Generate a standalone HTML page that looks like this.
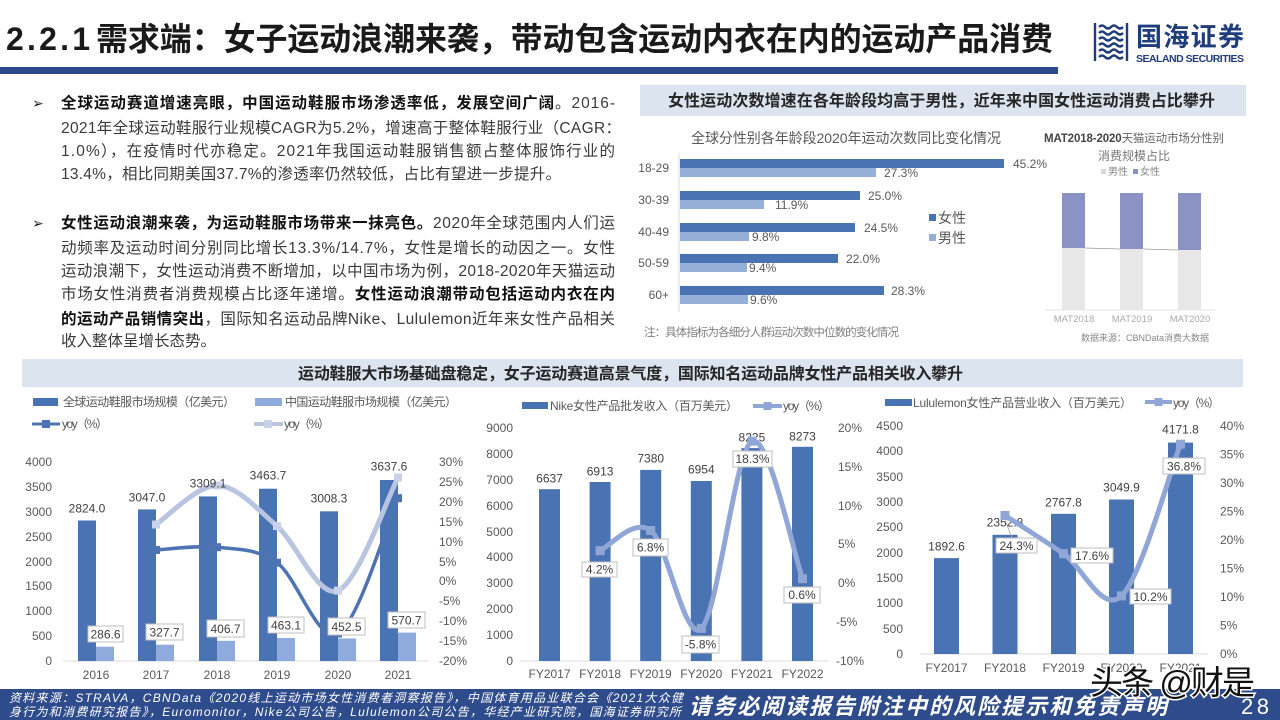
<!DOCTYPE html>
<html><head><meta charset="utf-8">
<style>
html,body{margin:0;padding:0;background:#fff;width:1280px;height:720px;overflow:hidden}
svg{display:block}
text{font-family:"Liberation Sans","Noto Sans CJK SC",sans-serif}
</style></head>
<body>
<svg width="1280" height="720" viewBox="0 0 1280 720" xmlns="http://www.w3.org/2000/svg">
<rect x="0" y="0" width="1280" height="720" fill="#fff"/>

<!-- Header -->
<text x="6" y="50" font-size="32" font-weight="bold" fill="#1a1a1a" textLength="84">2.2.1</text>
<text x="96" y="50" font-size="32" font-weight="bold" fill="#1a1a1a" textLength="957">需求端：女子运动浪潮来袭，带动包含运动内衣在内的运动产品消费</text>
<rect x="0" y="67" width="1058" height="7" fill="#2c4a8a"/>

<!-- Logo -->
<g fill="none" stroke="#1f3d7a" stroke-width="2.4">
<path d="M1095 23 v38"/>
<path d="M1127 23 v38"/>
<path d="M1099 27 q3 -3 6 0 t6 0 t6 0 t6 0"/>
<path d="M1099 33 q3 -3 6 0 t6 0 t6 0 t6 0"/>
<path d="M1099 39 q3 -3 6 0 t6 0 t6 0 t6 0"/>
<path d="M1099 45 q3 -3 6 0 t6 0 t6 0 t6 0"/>
<path d="M1099 51 q3 -3 6 0 t6 0 t6 0 t6 0"/>
<path d="M1099 57 q3 -3 6 0 t6 0 t6 0 t6 0"/>
</g>
<text x="1136" y="46" font-size="26" font-weight="bold" fill="#1f3d7a" textLength="108">国海证券</text>
<text x="1136" y="62" font-size="10.5" font-weight="bold" fill="#1f3d7a" textLength="108">SEALAND SECURITIES</text>

<!-- Left text -->
<g font-size="15.5" fill="#3a3a3a">
<text x="32" y="108" font-family="DejaVu Sans, sans-serif" font-size="14" fill="#222">➢</text>
<text x="61" y="108" textLength="554"><tspan font-weight="bold" fill="#111">全球运动赛道增速亮眼，中国运动鞋服市场渗透率低，发展空间广阔</tspan>。2016-</text>
<text x="61" y="133" textLength="560">2021年全球运动鞋服行业规模CAGR为5.2%，增速高于整体鞋服行业（CAGR：</text>
<text x="61" y="156" textLength="554">1.0%），在疫情时代亦稳定。2021年我国运动鞋服销售额占整体服饰行业的</text>
<text x="61" y="179" textLength="500">13.4%，相比同期美国37.7%的渗透率仍然较低，占比有望进一步提升。</text>

<text x="32" y="228" font-family="DejaVu Sans, sans-serif" font-size="14" fill="#222">➢</text>
<text x="61" y="228" textLength="554"><tspan font-weight="bold" fill="#111">女性运动浪潮来袭，为运动鞋服市场带来一抹亮色。</tspan>2020年全球范围内人们运</text>
<text x="61" y="253" textLength="554">动频率及运动时间分别同比增长13.3%/14.7%，女性是增长的动因之一。女性</text>
<text x="61" y="276" textLength="554">运动浪潮下，女性运动消费不断增加，以中国市场为例，2018-2020年天猫运动</text>
<text x="61" y="299" textLength="554">市场女性消费者消费规模占比逐年递增。<tspan font-weight="bold" fill="#111">女性运动浪潮带动包括运动内衣在内</tspan></text>
<text x="61" y="324" textLength="554"><tspan font-weight="bold" fill="#111">的运动产品销情突出</tspan>，国际知名运动品牌Nike、Lululemon近年来女性产品相关</text>
<text x="61" y="346">收入整体呈增长态势。</text>
</g>

<!-- Top-right panel -->
<rect x="640" y="85" width="606" height="31" fill="#dce4f0"/>
<text x="668" y="106" font-size="16" font-weight="bold" fill="#262626" textLength="547">女性运动次数增速在各年龄段均高于男性，近年来中国女性运动消费占比攀升</text>

<text x="691" y="143" font-size="14" fill="#595959" textLength="310">全球分性别各年龄段2020年运动次数同比变化情况</text>
<line x1="679" y1="153" x2="679" y2="312" stroke="#d9d9d9" stroke-width="1"/>
<g font-size="12" fill="#595959" text-anchor="end">
<text x="669" y="172">18-29</text>
<text x="669" y="204">30-39</text>
<text x="669" y="236">40-49</text>
<text x="669" y="267">50-59</text>
<text x="669" y="299">60+</text>
</g>
<g fill="#4a73b4">
<rect x="680" y="159" width="324" height="9"/>
<rect x="680" y="191" width="180" height="9"/>
<rect x="680" y="223" width="175" height="9"/>
<rect x="680" y="254" width="158" height="9"/>
<rect x="680" y="286" width="204" height="9"/>
</g>
<g fill="#95afd9">
<rect x="680" y="168" width="196" height="9"/>
<rect x="680" y="200" width="84" height="9"/>
<rect x="680" y="232" width="69" height="9"/>
<rect x="680" y="263" width="67" height="9"/>
<rect x="680" y="295" width="68" height="9"/>
</g>
<g font-size="12" fill="#595959">
<text x="1013" y="168">45.2%</text>
<text x="884" y="177">27.3%</text>
<text x="868" y="200">25.0%</text>
<text x="775" y="209">11.9%</text>
<text x="864" y="232">24.5%</text>
<text x="752" y="241">9.8%</text>
<text x="846" y="263">22.0%</text>
<text x="749" y="272">9.4%</text>
<text x="891" y="295">28.3%</text>
<text x="750" y="304">9.6%</text>
</g>
<rect x="929" y="214" width="7" height="7" fill="#4a73b4"/>
<text x="938" y="223" font-size="14" fill="#595959">女性</text>
<rect x="929" y="234" width="7" height="7" fill="#95afd9"/>
<text x="938" y="243" font-size="14" fill="#595959">男性</text>
<text x="644" y="336" font-size="11.5" fill="#7f7f7f" textLength="255">注：具体指标为各细分人群运动次数中位数的变化情况</text>

<!-- MAT mini chart -->
<text x="1044" y="142" font-size="11.5" fill="#666" textLength="180"><tspan font-weight="bold" fill="#444">MAT2018-2020</tspan>天猫运动市场分性别</text>
<text x="1134" y="160" font-size="12" fill="#777" text-anchor="middle">消费规模占比</text>
<rect x="1101" y="169" width="5" height="5" fill="#d9d9d9"/>
<text x="1108" y="175" font-size="10" fill="#888">男性</text>
<rect x="1133" y="169" width="5" height="5" fill="#8b93c4"/>
<text x="1140" y="175" font-size="10" fill="#888">女性</text>
<g fill="#8b93c4">
<rect x="1062" y="193" width="23" height="55"/>
<rect x="1120" y="193" width="23" height="56"/>
<rect x="1178" y="193" width="23" height="57"/>
</g>
<g fill="#e7e7e7">
<rect x="1062" y="248" width="23" height="62"/>
<rect x="1120" y="249" width="23" height="61"/>
<rect x="1178" y="250" width="23" height="60"/>
</g>
<line x1="1085" y1="248" x2="1120" y2="249" stroke="#999" stroke-width="0.8"/>
<line x1="1143" y1="249" x2="1178" y2="250" stroke="#999" stroke-width="0.8"/>
<line x1="1045" y1="310" x2="1215" y2="310" stroke="#e6e6e6" stroke-width="1"/>
<g font-size="9.5" fill="#aaa" text-anchor="middle">
<text x="1074" y="322">MAT2018</text>
<text x="1132" y="322">MAT2019</text>
<text x="1190" y="322">MAT2020</text>
</g>
<text x="1145" y="341" font-size="9" fill="#888" text-anchor="middle">数据来源：CBNData消费大数据</text>

<!-- Banner -->
<rect x="22" y="359" width="1221" height="28" fill="#dce4f0"/>
<text x="298" y="379" font-size="16" font-weight="bold" fill="#262626" textLength="665">运动鞋服大市场基础盘稳定，女子运动赛道高景气度，国际知名运动品牌女性产品相关收入攀升</text>

<!-- ============ Bottom-left chart ============ -->
<rect x="33" y="398" width="25" height="8" fill="#4a73b4"/>
<text x="63" y="406" font-size="12" fill="#595959" textLength="172">全球运动鞋服市场规模（亿美元）</text>
<rect x="255" y="398" width="27" height="8" fill="#8faadc"/>
<text x="285" y="406" font-size="12" fill="#595959" textLength="172">中国运动鞋服市场规模（亿美元）</text>
<line x1="32" y1="424" x2="60" y2="424" stroke="#4d73b2" stroke-width="3"/>
<rect x="42" y="420" width="8" height="8" fill="#4d73b2"/>
<text x="62" y="428" font-size="12" fill="#595959" textLength="46">yoy（%）</text>
<line x1="254" y1="424" x2="283" y2="424" stroke="#b8c4e0" stroke-width="4"/>
<rect x="264" y="420" width="8" height="8" fill="#c9d2ea"/>
<text x="284" y="428" font-size="12" fill="#595959" textLength="46">yoy（%）</text>

<g font-size="12" fill="#595959" text-anchor="end">
<text x="52" y="466">4000</text>
<text x="52" y="491">3500</text>
<text x="52" y="516">3000</text>
<text x="52" y="541">2500</text>
<text x="52" y="566">2000</text>
<text x="52" y="590">1500</text>
<text x="52" y="615">1000</text>
<text x="52" y="640">500</text>
<text x="52" y="665">0</text>
</g>
<g font-size="12" fill="#595959">
<text x="439" y="466">30%</text>
<text x="439" y="486">25%</text>
<text x="439" y="506">20%</text>
<text x="439" y="526">15%</text>
<text x="439" y="546">10%</text>
<text x="439" y="566">5%</text>
<text x="439" y="585">0%</text>
<text x="439" y="605">-5%</text>
<text x="439" y="625">-10%</text>
<text x="439" y="645">-15%</text>
<text x="439" y="665">-20%</text>
</g>
<line x1="63" y1="661" x2="428" y2="661" stroke="#d9d9d9" stroke-width="1"/>
<g fill="#4a73b4">
<rect x="78" y="520.5" width="18" height="140.5"/>
<rect x="138" y="509.4" width="18" height="151.6"/>
<rect x="199" y="496.4" width="18" height="164.6"/>
<rect x="259" y="488.7" width="18" height="172.3"/>
<rect x="320" y="511.3" width="18" height="149.7"/>
<rect x="380" y="480" width="18" height="181"/>
</g>
<g fill="#8faadc">
<rect x="96" y="646.7" width="18" height="14.3"/>
<rect x="156" y="644.7" width="18" height="16.3"/>
<rect x="217" y="640.8" width="18" height="20.2"/>
<rect x="277" y="638" width="18" height="23"/>
<rect x="338" y="638.5" width="18" height="22.5"/>
<rect x="398" y="632.6" width="18" height="28.4"/>
</g>
<g font-size="12" fill="#595959" text-anchor="middle">
<text x="96" y="679">2016</text>
<text x="156" y="679">2017</text>
<text x="217" y="679">2018</text>
<text x="277" y="679">2019</text>
<text x="338" y="679">2020</text>
<text x="398" y="679">2021</text>
</g>
<!-- China yoy line -->
<path d="M156 524.5 C166.2 518 196.8 485.2 217 485.5 C237.2 485.8 256.8 508.6 277 526.1 C297.2 543.6 317.8 598.7 338 590.6 C358.2 582.5 388 496.4 398 477.5" fill="none" stroke="#b8c4e0" stroke-width="5"/>
<!-- Global yoy line -->
<path d="M156 550 C166.2 549.5 196.8 545.1 217 547.2 C237.2 549.3 256.8 548.3 277 562.7 C297.2 577.1 317.8 644.3 338 633.5 C358.2 622.75 388 520.8 398 498.2" fill="none" stroke="#4d73b2" stroke-width="3.5"/>
<g fill="#c9d2ea">
<rect x="152" y="520.5" width="8" height="8"/>
<rect x="213" y="481.5" width="8" height="8"/>
<rect x="273" y="522.1" width="8" height="8"/>
<rect x="334" y="586.6" width="8" height="8"/>
<rect x="394" y="473.5" width="8" height="8"/>
</g>
<g fill="#4d73b2">
<rect x="152" y="546" width="8" height="8"/>
<rect x="213" y="543.2" width="8" height="8"/>
<rect x="273" y="558.7" width="8" height="8"/>
<rect x="334" y="629.5" width="8" height="8"/>
<rect x="394" y="494.2" width="8" height="8"/>
</g>
<g font-size="12" fill="#404040" text-anchor="middle">
<text x="87" y="512.5">2824.0</text>
<text x="147" y="501.5">3047.0</text>
<text x="208" y="487.5">3309.1</text>
<text x="268" y="479.5">3463.7</text>
<text x="329" y="502.5">3008.3</text>
<text x="389" y="470.5">3637.6</text>
</g>
<g fill="#fff" stroke="#bfbfbf" stroke-width="1">
<rect x="88" y="626" width="35" height="16"/>
<rect x="146" y="624" width="37" height="16"/>
<rect x="207" y="620" width="37" height="17"/>
<rect x="268" y="617" width="36" height="16"/>
<rect x="328" y="618" width="37" height="17"/>
<rect x="388" y="612" width="37" height="16"/>
</g>
<g font-size="12" fill="#404040" text-anchor="middle">
<text x="105.5" y="638.5">286.6</text>
<text x="164.5" y="636.5">327.7</text>
<text x="225.5" y="633">406.7</text>
<text x="286" y="629.5">463.1</text>
<text x="346.5" y="631">452.5</text>
<text x="406.5" y="624.5">570.7</text>
</g>

<!-- ============ Middle chart (Nike) ============ -->
<rect x="522" y="402" width="26" height="7" fill="#4a73b4"/>
<text x="550" y="410" font-size="12" fill="#595959" textLength="188">Nike女性产品批发收入（百万美元）</text>
<line x1="753" y1="406" x2="782" y2="406" stroke="#8fa6d6" stroke-width="4"/>
<rect x="763.5" y="402" width="8" height="8" fill="#8fa6d6"/>
<text x="783" y="410" font-size="12" fill="#595959" textLength="47">yoy（%）</text>

<g font-size="12" fill="#595959" text-anchor="end">
<text x="513" y="432">9000</text>
<text x="513" y="458">8000</text>
<text x="513" y="484">7000</text>
<text x="513" y="510">6000</text>
<text x="513" y="536">5000</text>
<text x="513" y="561">4000</text>
<text x="513" y="587">3000</text>
<text x="513" y="613">2000</text>
<text x="513" y="639">1000</text>
<text x="513" y="665">0</text>
</g>
<g font-size="12" fill="#595959">
<text x="838" y="432">20%</text>
<text x="838" y="471">15%</text>
<text x="838" y="510">10%</text>
<text x="838" y="548">5%</text>
<text x="838" y="587">0%</text>
<text x="836" y="626">-5%</text>
<text x="836" y="665">-10%</text>
</g>
<line x1="520" y1="661" x2="828" y2="661" stroke="#d9d9d9" stroke-width="1"/>
<g fill="#4a73b4">
<rect x="539" y="489.2" width="21" height="171.8"/>
<rect x="589.6" y="482" width="21" height="179"/>
<rect x="640.2" y="469.9" width="21" height="191.1"/>
<rect x="690.8" y="481" width="21" height="180"/>
<rect x="741.4" y="448.1" width="21" height="212.9"/>
<rect x="792" y="446.8" width="21" height="214.2"/>
</g>
<g font-size="12" fill="#595959" text-anchor="middle">
<text x="549.5" y="678">FY2017</text>
<text x="600.1" y="678">FY2018</text>
<text x="650.7" y="678">FY2019</text>
<text x="701.3" y="678">FY2020</text>
<text x="751.9" y="678">FY2021</text>
<text x="802.5" y="678">FY2022</text>
</g>
<g font-size="12" fill="#404040" text-anchor="middle">
<text x="549.5" y="482.5">6637</text>
<text x="600.1" y="475.5">6913</text>
<text x="650.7" y="462.5">7380</text>
<text x="701.3" y="473.5">6954</text>
<text x="751.9" y="441.5">8225</text>
<text x="802.5" y="440.5">8273</text>
</g>
<path d="M600.1 550.7 C608.5 547.3 633.8 517.55 650.7 530.5 C667.6 543.45 684.4 643.3 701.3 628.4 C718.2 613.5 735 449.5 751.9 441.2 C768.8 432.9 794.1 555.8 802.5 578.7" fill="none" stroke="#8fa6d6" stroke-width="5"/>
<g fill="#8fa6d6">
<rect x="595.6" y="546.2" width="9" height="9"/>
<rect x="646.2" y="526" width="9" height="9"/>
<rect x="696.8" y="623.9" width="9" height="9"/>
<rect x="747.4" y="436.7" width="9" height="9"/>
<rect x="798" y="574.2" width="9" height="9"/>
</g>
<g fill="#fff" stroke="#bfbfbf" stroke-width="1">
<rect x="582" y="562" width="35" height="15"/>
<rect x="633" y="539" width="35" height="17"/>
<rect x="682" y="636" width="37" height="17"/>
<rect x="733" y="451" width="39" height="16"/>
<rect x="784" y="587" width="36" height="16"/>
</g>
<g font-size="12" fill="#404040" text-anchor="middle">
<text x="599.5" y="573.5">4.2%</text>
<text x="650.5" y="551.5">6.8%</text>
<text x="700.5" y="648.5">-5.8%</text>
<text x="752.5" y="463">18.3%</text>
<text x="802" y="599">0.6%</text>
</g>

<!-- ============ Right chart (Lululemon) ============ -->
<rect x="885" y="399" width="27" height="7" fill="#4a73b4"/>
<text x="913" y="407" font-size="12" fill="#595959" textLength="219">Lululemon女性产品营业收入（百万美元）</text>
<line x1="1145" y1="402" x2="1172" y2="402" stroke="#8fa6d6" stroke-width="4"/>
<rect x="1154.5" y="398" width="8" height="8" fill="#8fa6d6"/>
<text x="1173" y="407" font-size="12" fill="#595959" textLength="47">yoy（%）</text>

<g font-size="12" fill="#595959" text-anchor="end">
<text x="903" y="430">4500</text>
<text x="903" y="455">4000</text>
<text x="903" y="481">3500</text>
<text x="903" y="506">3000</text>
<text x="903" y="531">2500</text>
<text x="903" y="557">2000</text>
<text x="903" y="582">1500</text>
<text x="903" y="607">1000</text>
<text x="903" y="633">500</text>
<text x="903" y="658">0</text>
</g>
<g font-size="12" fill="#595959">
<text x="1220" y="430">40%</text>
<text x="1220" y="458.5">35%</text>
<text x="1220" y="487">30%</text>
<text x="1220" y="515.5">25%</text>
<text x="1220" y="544">20%</text>
<text x="1220" y="572.5">15%</text>
<text x="1220" y="601">10%</text>
<text x="1220" y="629.5">5%</text>
<text x="1220" y="658">0%</text>
</g>
<line x1="920" y1="654" x2="1208" y2="654" stroke="#d9d9d9" stroke-width="1"/>
<g fill="#4a73b4">
<rect x="934" y="558.1" width="25" height="95.9"/>
<rect x="992.5" y="534.8" width="25" height="119.2"/>
<rect x="1051" y="513.8" width="25" height="140.2"/>
<rect x="1109" y="499.5" width="25" height="154.5"/>
<rect x="1168" y="442.6" width="25" height="211.4"/>
</g>
<g font-size="12" fill="#595959" text-anchor="middle">
<text x="946.5" y="672">FY2017</text>
<text x="1005" y="672">FY2018</text>
<text x="1063.5" y="672">FY2019</text>
<text x="1121.5" y="672">FY2020</text>
<text x="1180.5" y="672">FY2021</text>
</g>
<g font-size="12" fill="#404040" text-anchor="middle">
<text x="946.5" y="550.5">1892.6</text>
<text x="1005" y="526.5">2352.8</text>
<text x="1063.5" y="506.5">2767.8</text>
<text x="1121.5" y="491.5">3049.9</text>
<text x="1180.5" y="433.5">4171.8</text>
</g>
<path d="M1005 515.5 C1014.75 521.9 1044.1 540.3 1063.5 553.7 C1082.9 567.1 1102 614.15 1121.5 595.9 C1141 577.65 1170.7 469.5 1180.5 444.2" fill="none" stroke="#8fa6d6" stroke-width="5"/>
<g fill="#8fa6d6">
<rect x="1000.5" y="511" width="9" height="9"/>
<rect x="1059" y="549.2" width="9" height="9"/>
<rect x="1117" y="591.4" width="9" height="9"/>
<rect x="1176" y="439.7" width="9" height="9"/>
</g>
<line x1="1005" y1="520" x2="1012" y2="538" stroke="#a6a6a6" stroke-width="0.8"/>
<g fill="#fff" stroke="#bfbfbf" stroke-width="1">
<rect x="996" y="538" width="41" height="15"/>
<rect x="1071" y="548" width="42" height="15"/>
<rect x="1130" y="589" width="41" height="15"/>
<rect x="1163" y="458" width="42" height="16"/>
</g>
<g font-size="12" fill="#404040" text-anchor="middle">
<text x="1016.5" y="550">24.3%</text>
<text x="1092" y="560">17.6%</text>
<text x="1150.5" y="601">10.2%</text>
<text x="1184" y="470.5">36.8%</text>
</g>

<!-- Footer -->
<rect x="0" y="689" width="1280" height="31" fill="#2e4b8b"/>
<text x="9" y="702" font-size="12" font-style="italic" fill="#fff" textLength="674">资料来源：STRAVA，CBNData《2020线上运动市场女性消费者洞察报告》，中国体育用品业联合会《2021大众健</text>
<text x="9" y="716" font-size="12" font-style="italic" fill="#fff" textLength="672">身行为和消费研究报告》，Euromonitor，Nike公司公告，Lululemon公司公告，华经产业研究院，国海证券研究所</text>
<text x="689" y="714" font-size="22" font-weight="bold" font-style="italic" fill="#fff" textLength="478">请务必阅读报告附注中的风险提示和免责声明</text>
<text x="1241" y="714" font-size="22" fill="#fff" textLength="28">28</text>

<!-- Watermark -->
<text x="1090" y="694" font-size="33" fill="#111" stroke="#fff" stroke-width="3" paint-order="stroke" textLength="165">头条 @财是</text>
</svg>
</body></html>
